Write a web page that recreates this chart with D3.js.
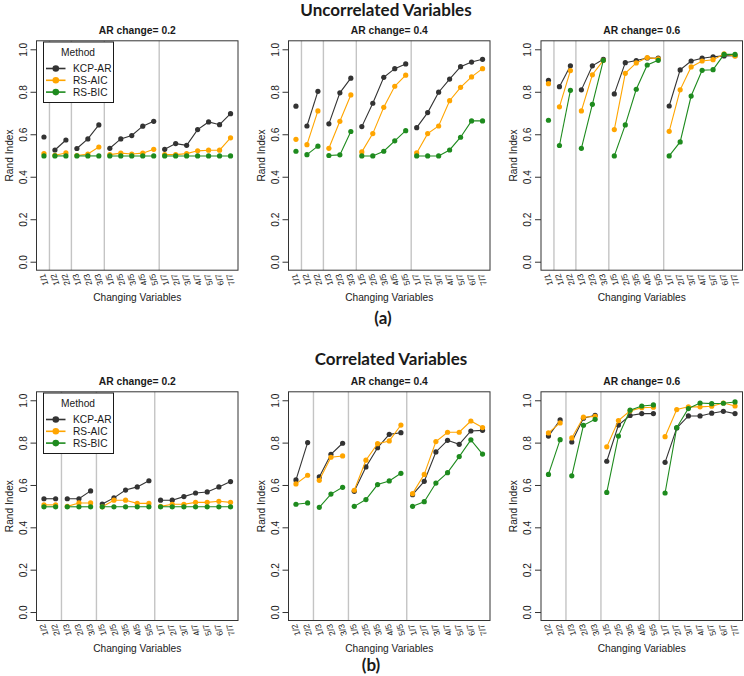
<!DOCTYPE html>
<html>
<head>
<meta charset="utf-8">
<script src="https://cdn.jsdelivr.net/npm/d3@7"></script>
<style>
  body { margin: 0; background: #fff; }
  svg text { font-family: "Liberation Sans", Arial, sans-serif; fill: #1a1a1a; }
  .big { font-family: Lato, "Open Sans", sans-serif; font-weight: bold; }
</style>
</head>
<body>
<svg id="chart" width="744" height="676"></svg>
<script>
/* Rand index of three methods, by number of changing variables.
   Two rows (uncorrelated / correlated), three AR change levels each. */

// categories on the x axis
const catsUncorr = ["1/1", "1/2", "2/2", "1/3", "2/3", "3/3", "1/5", "2/5", "3/5", "4/5", "5/5",
  "1/7", "2/7", "3/7", "4/7", "5/7", "6/7", "7/7"];
const catsCorr = ["1/2", "2/2", "1/3", "2/3", "3/3", "1/5", "2/5", "3/5", "4/5", "5/5",
  "1/7", "2/7", "3/7", "4/7", "5/7", "6/7", "7/7"];

const methods = ["KCP-AR", "RS-AIC", "RS-BIC"];
const methodColors = ["#333333", "#FFA500", "#1E8B1E"];
const arChanges = ["0.2", "0.4", "0.6"];

// uncorrelated variables
const unc02Kcp = [0.587, 0.526, 0.573, 0.533, 0.578, 0.644, 0.534, 0.578, 0.594, 0.638, 0.661,
  0.529, 0.556, 0.548, 0.622, 0.658, 0.645, 0.697];
const unc02Aic = [0.509, 0.501, 0.512, 0.500, 0.507, 0.540, 0.504, 0.511, 0.507, 0.511, 0.529,
  0.504, 0.504, 0.509, 0.522, 0.525, 0.525, 0.583];
const unc02Bic = [0.498, 0.498, 0.498, 0.498, 0.498, 0.498, 0.498, 0.498, 0.498, 0.498, 0.498,
  0.498, 0.498, 0.498, 0.498, 0.498, 0.498, 0.498];

const unc04Kcp = [0.732, 0.639, 0.802, 0.649, 0.795, 0.864, 0.636, 0.746, 0.868, 0.909, 0.931,
  0.631, 0.702, 0.798, 0.860, 0.918, 0.940, 0.953];
const unc04Aic = [0.576, 0.551, 0.710, 0.534, 0.661, 0.785, 0.517, 0.603, 0.727, 0.826, 0.878,
  0.512, 0.603, 0.639, 0.758, 0.821, 0.870, 0.909];
const unc04Bic = [0.520, 0.504, 0.544, 0.500, 0.503, 0.613, 0.498, 0.498, 0.520, 0.569, 0.617,
  0.498, 0.498, 0.498, 0.526, 0.586, 0.663, 0.663];

const unc06Kcp = [0.854, 0.824, 0.922, 0.809, 0.922, 0.953, 0.790, 0.937, 0.947, 0.959, 0.958,
  0.733, 0.903, 0.945, 0.958, 0.965, 0.969, 0.970];
const unc06Aic = [0.838, 0.729, 0.900, 0.710, 0.880, 0.948, 0.622, 0.887, 0.936, 0.961, 0.955,
  0.614, 0.809, 0.917, 0.945, 0.951, 0.978, 0.969];
const unc06Bic = [0.666, 0.547, 0.807, 0.534, 0.741, 0.948, 0.498, 0.644, 0.812, 0.926, 0.948,
  0.498, 0.564, 0.780, 0.901, 0.904, 0.976, 0.976];

// correlated variables
const cor02Kcp = [0.535, 0.535, 0.535, 0.535, 0.572, 0.510, 0.539, 0.576, 0.591, 0.620,
  0.528, 0.528, 0.545, 0.562, 0.567, 0.591, 0.616];
const cor02Aic = [0.506, 0.506, 0.499, 0.515, 0.515, 0.497, 0.528, 0.528, 0.513, 0.513,
  0.499, 0.509, 0.509, 0.518, 0.518, 0.523, 0.518];
const cor02Bic = [0.497, 0.497, 0.497, 0.497, 0.497, 0.497, 0.497, 0.497, 0.497, 0.497,
  0.497, 0.497, 0.497, 0.497, 0.497, 0.497, 0.497];

const cor04Kcp = [0.624, 0.800, 0.638, 0.745, 0.797, 0.570, 0.685, 0.776, 0.839, 0.847,
  0.554, 0.617, 0.756, 0.811, 0.792, 0.855, 0.858];
const cor04Aic = [0.605, 0.646, 0.622, 0.731, 0.737, 0.575, 0.717, 0.795, 0.808, 0.883,
  0.559, 0.650, 0.805, 0.849, 0.849, 0.902, 0.871];
const cor04Bic = [0.509, 0.515, 0.494, 0.557, 0.589, 0.499, 0.531, 0.602, 0.619, 0.655,
  0.499, 0.521, 0.609, 0.658, 0.734, 0.813, 0.746];

const cor06Kcp = [0.831, 0.907, 0.803, 0.915, 0.929, 0.712, 0.883, 0.928, 0.937, 0.937,
  0.707, 0.869, 0.926, 0.926, 0.939, 0.948, 0.937];
const cor06Aic = [0.846, 0.893, 0.822, 0.920, 0.924, 0.780, 0.904, 0.950, 0.965, 0.967,
  0.828, 0.956, 0.969, 0.969, 0.972, 0.987, 0.973];
const cor06Bic = [0.650, 0.814, 0.643, 0.882, 0.910, 0.565, 0.831, 0.953, 0.973, 0.978,
  0.562, 0.871, 0.961, 0.987, 0.984, 0.986, 0.992];

const yTicks = [0, 0.2, 0.4, 0.6, 0.8, 1.0];

const rows = [
  { title: "Uncorrelated Variables", tag: "(a)", cats: catsUncorr, top: 40.8, bottom: 270.2,
    series: [[unc02Kcp, unc02Aic, unc02Bic], [unc04Kcp, unc04Aic, unc04Bic], [unc06Kcp, unc06Aic, unc06Bic]] },
  { title: "Correlated Variables", tag: "(b)", cats: catsCorr, top: 391.8, bottom: 620.5,
    series: [[cor02Kcp, cor02Aic, cor02Bic], [cor04Kcp, cor04Aic, cor04Bic], [cor06Kcp, cor06Aic, cor06Bic]] },
];

const panelLefts = [36.5, 288.5, 541];
const panelWidth = 201.5;
const titleX = [386, 391];
const titleY = [15.8, 364.5];
const tagX = [383, 371];
const tagY = [324, 671];

const svg = d3.select("#chart");

rows.forEach(function (row, r) {
  svg.append("text").attr("class", "big")
    .attr("x", titleX[r]).attr("y", titleY[r])
    .attr("text-anchor", "middle").style("font-size", "17px")
    .text(row.title);
  svg.append("text").attr("class", "big")
    .attr("x", tagX[r]).attr("y", tagY[r])
    .attr("text-anchor", "middle").style("font-size", "17px")
    .text(row.tag);

  const n = row.cats.length;
  // group of each category = its denominator
  const denom = row.cats.map((c) => +c.split("/")[1]);
  const seps = [];
  for (let i = 1; i < n; i++) if (denom[i] !== denom[i - 1]) seps.push(i + 0.5);

  arChanges.forEach(function (ar, p) {
    const left = panelLefts[p];
    const pad = 0.04 * (n - 1);
    const x = d3.scaleLinear().domain([1 - pad, n + pad]).range([left, left + panelWidth]);
    const y = d3.scaleLinear().domain([-0.04, 1.04]).range([row.bottom, row.top]);
    const g = svg.append("g");

    // group separators
    g.selectAll(".sep").data(seps).enter().append("line")
      .attr("x1", (d) => x(d)).attr("x2", (d) => x(d))
      .attr("y1", row.top).attr("y2", row.bottom)
      .attr("stroke", "#c4c4c4").attr("stroke-width", 1.4);

    // lines + points
    row.series[p].forEach(function (vals, m) {
      const pts = vals.map((v, i) => ({ i: i + 1, v: v, grp: denom[i] }));
      const groups = d3.groups(pts, (d) => d.grp);
      const line = d3.line().x((d) => x(d.i)).y((d) => y(d.v));
      groups.forEach(function (gr) {
        if (gr[1].length > 1) {
          g.append("path").attr("d", line(gr[1]))
            .attr("fill", "none").attr("stroke", methodColors[m]).attr("stroke-width", 1.1);
        }
      });
      g.selectAll(".pt" + m).data(pts).enter().append("circle")
        .attr("cx", (d) => x(d.i)).attr("cy", (d) => y(d.v))
        .attr("r", 2.6).attr("fill", methodColors[m]);
    });

    // box
    g.append("rect").attr("x", left).attr("y", row.top)
      .attr("width", panelWidth).attr("height", row.bottom - row.top)
      .attr("fill", "none").attr("stroke", "#333").attr("stroke-width", 1);

    // y axis
    const yAxis = g.append("g").attr("transform", `translate(${left},0)`)
      .call(d3.axisLeft(y).tickValues(yTicks).tickFormat(d3.format(".1f")).tickSize(6).tickPadding(0));
    yAxis.select(".domain").remove();
    yAxis.selectAll("line").attr("stroke", "#333");
    yAxis.selectAll("text")
      .attr("x", 0).attr("dy", null)
      .attr("text-anchor", "middle")
      .attr("transform", "translate(-10,0) rotate(-90)")
      .style("font-size", "10.2px").style("font-family", "Liberation Sans, Arial, sans-serif")
      .attr("fill", "#1a1a1a");

    // x axis labels, slanted, ending at the axis
    const xAxis = g.append("g").attr("transform", `translate(0,${row.bottom})`)
      .call(d3.axisBottom(x).tickValues(d3.range(1, n + 1)).tickFormat((d) => row.cats[d - 1]).tickSize(0));
    xAxis.select(".domain").remove();
    xAxis.selectAll("text")
      .attr("y", 0).attr("dy", null)
      .attr("text-anchor", "end")
      .attr("transform", "translate(0.5,3) rotate(-107)")
      .style("font-size", "8.5px").style("font-family", "Liberation Sans, Arial, sans-serif")
      .attr("fill", "#1a1a1a");

    // titles
    g.append("text").attr("x", left + panelWidth / 2).attr("y", row.top - 6.8)
      .attr("text-anchor", "middle").style("font-size", "10.3px").style("font-weight", "bold")
      .text("AR change= " + ar);
    g.append("text").attr("x", left + panelWidth / 2).attr("y", row.bottom + 31)
      .attr("text-anchor", "middle").style("font-size", "10.2px")
      .text("Changing Variables");
    g.append("text")
      .attr("transform", `translate(${left - 24},${(row.top + row.bottom) / 2}) rotate(-90)`)
      .attr("text-anchor", "middle").style("font-size", "10.2px")
      .text("Rand Index");

    // legend in the first panel of each row
    if (p === 0) {
      const lx = left + 7, ly = row.top + 1.2;
      const lg = g.append("g");
      lg.append("rect").attr("x", lx).attr("y", ly).attr("width", 70).attr("height", 60.5)
        .attr("fill", "#fff").attr("stroke", "#1a1a1a").attr("stroke-width", 1);
      lg.append("text").attr("x", lx + 34.5).attr("y", ly + 13.5)
        .attr("text-anchor", "middle").style("font-size", "10.2px").text("Method");
      methods.forEach(function (name, m) {
        const cy = ly + 26.5 + m * 11.8;
        lg.append("line").attr("x1", lx + 2.5).attr("x2", lx + 22)
          .attr("y1", cy).attr("y2", cy)
          .attr("stroke", methodColors[m]).attr("stroke-width", 1.6);
        lg.append("circle").attr("cx", lx + 12.3).attr("cy", cy).attr("r", 3.3)
          .attr("fill", methodColors[m]);
        lg.append("text").attr("x", lx + 29.5).attr("y", cy + 3.7)
          .style("font-size", "10.2px").text(name);
      });
    }
  });
});
</script>
</body>
</html>
